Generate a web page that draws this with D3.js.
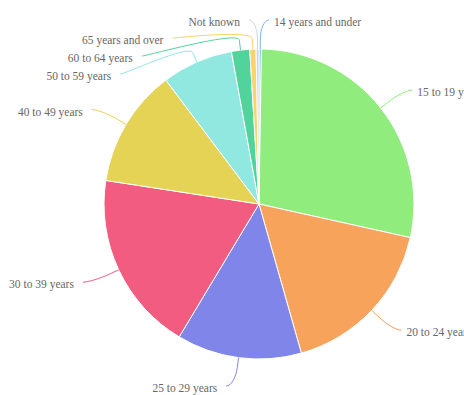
<!DOCTYPE html>
<html>
<head>
<meta charset="utf-8">
<script src="https://cdn.jsdelivr.net/npm/d3@7"></script>
<style>
  html, body { margin: 0; padding: 0; background: #fff; overflow: hidden; }
  svg { display: block; }
  .label { font-family: "Liberation Serif", "Times New Roman", serif; font-size: 11.5px; fill: #666; }
</style>
</head>
<body>
<script>
// Age groups, clockwise from 12 o'clock
const categories = ['14 years and under', '15 to 19 years', '20 to 24 years', '25 to 29 years',
    '30 to 39 years', '40 to 49 years', '50 to 59 years', '60 to 64 years',
    '65 years and over', 'Not known'];
// share of total (%)
const values = [0.25, 28.2, 17.1, 13.0, 18.8, 12.3, 7.4, 1.9, 0.65, 0.3];
const colors = ['#7cb5ec', '#90ed7d', '#f7a35c', '#8085e9', '#f15c80', '#e4d354',
    '#91e8e1', '#50d49c', '#f8d46a', '#c4d7ea'];

const outerW = 464,
    outerH = 395;

const cx = 259,
    cy = 204,
    radius = 155,
    labelRx = 189,   // labels sit on an ellipse round the pie
    labelRy = 184,
    lineGap = 18;

const svg = d3.select('body').append('svg')
    .attr('width', outerW)
    .attr('height', outerH);

const g = svg.append('g')
    .attr('transform', 'translate(' + cx + ',' + cy + ')');

const data = categories.map((c, i) => ({ name: c, value: values[i], color: colors[i] }));

const pie = d3.pie()
    .sort(null)
    .value(d => d.value);

const arc = d3.arc()
    .innerRadius(0)
    .outerRadius(radius);

const arcs = pie(data);

// slices
g.selectAll('.slice')
    .data(arcs)
    .enter().append('path')
    .attr('class', 'slice')
    .attr('d', arc)
    .style('fill', d => d.data.color)
    .style('stroke', '#fff')
    .style('stroke-width', 1);

// label layout: natural position on the label ellipse, then pushed apart per side
arcs.forEach(d => {
    d.mid = (d.startAngle + d.endAngle) / 2;
    d.side = d.mid > Math.PI ? -1 : 1;
    d.ly = -labelRy * Math.cos(d.mid);
});

const minY = -labelRy,
    maxY = 182;

[-1, 1].forEach(side => {
    const group = arcs.filter(d => d.side === side).sort((a, b) => a.ly - b.ly);
    let prev = -Infinity;
    group.forEach(d => {
        d.ly = Math.max(d.ly, minY, prev + lineGap);
        prev = d.ly;
    });
    let next = Infinity;
    group.slice().reverse().forEach(d => {
        d.ly = Math.min(d.ly, maxY, next - lineGap);
        next = d.ly;
    });
});

arcs.forEach(d => {
    const t = d.ly / labelRy;
    d.lx = d.side * Math.max(5, labelRx * Math.sqrt(Math.max(0, 1 - t * t)));
});

// connectors
g.selectAll('.connector')
    .data(arcs)
    .enter().append('path')
    .attr('class', 'connector')
    .attr('d', d => {
        const ex = radius * Math.sin(d.mid),
            ey = -radius * Math.cos(d.mid),
            bx = (radius + 10) * Math.sin(d.mid),
            by = -(radius + 10) * Math.cos(d.mid);
        return 'M' + (d.lx + d.side * 5) + ',' + d.ly +
            'C' + d.lx + ',' + d.ly + ' ' + (2 * bx - ex) + ',' + (2 * by - ey) + ' ' + bx + ',' + by +
            'L' + ex + ',' + ey;
    })
    .style('fill', 'none')
    .style('stroke', d => d.data.color)
    .style('stroke-width', 1);

// labels
g.selectAll('.label')
    .data(arcs)
    .enter().append('text')
    .attr('class', 'label')
    .attr('x', d => d.lx + d.side * (d.side > 0 ? 10 : 14))
    .attr('y', d => d.ly + 2)
    .attr('dy', '0.35em')
    .attr('text-anchor', d => d.side > 0 ? 'start' : 'end')
    .text(d => d.data.name);
</script>
</body>
</html>
